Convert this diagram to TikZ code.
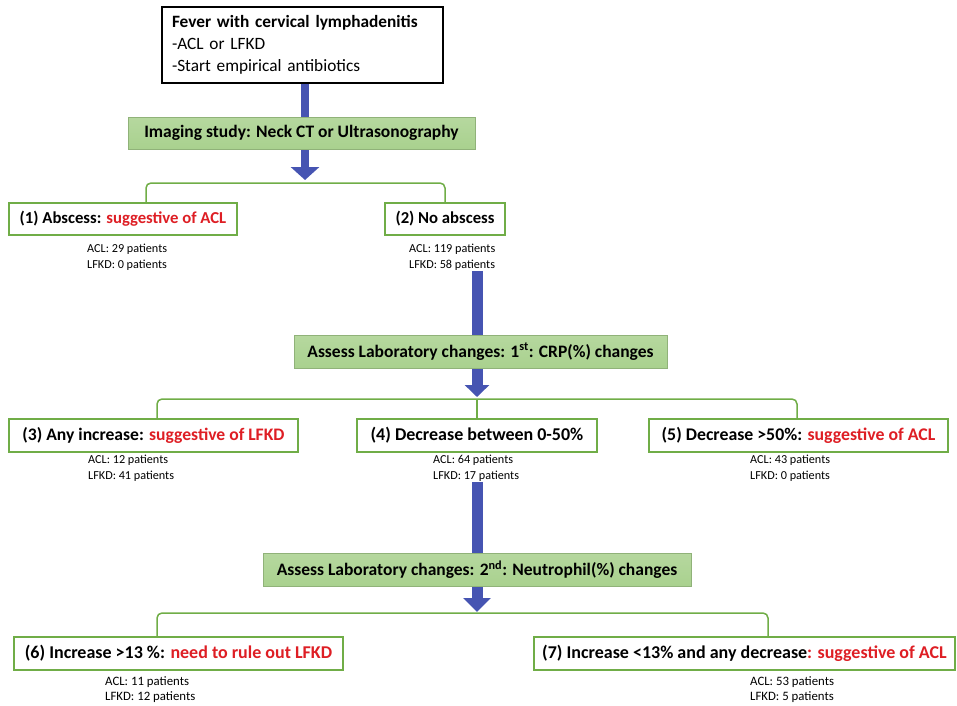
\documentclass[tikz,border=0pt]{standalone}
\usepackage{fontspec}
\setmainfont{Carlito}
\usetikzlibrary{positioning,arrows.meta,backgrounds}

\definecolor{boxgreen}{RGB}{112,173,71}
\definecolor{fillgreen}{RGB}{169,209,142}
\definecolor{arrowblue}{RGB}{70,84,178}
\definecolor{sugred}{RGB}{222,30,36}
\newcommand{\sug}[1]{\textcolor{sugred}{#1}}
\newcommand{\fs}[1]{\fontsize{#1}{1.2\dimexpr#1pt\relax}\selectfont}

\tikzset{
  outcome/.style={draw=boxgreen, line width=1.5pt, fill=white, minimum height=33pt,
    inner sep=0pt, font=\fs{16.7}\bfseries},
  assess/.style={draw=fillgreen!85!black, line width=0.8pt, top color=fillgreen!85!white,
    bottom color=fillgreen, minimum height=33pt, inner sep=0pt,
    font=\fs{17.5}\bfseries},
  counts/.style={anchor=west, align=left, inner sep=0pt, font=\fontsize{12.2}{16}\selectfont},
  bracket/.style={draw=boxgreen, line width=1.5pt, rounded corners=5pt},
  bigarrow/.style n args={3}{draw=arrowblue, line width=#1,
    -{Triangle[width=#2,length=#3]}}
}

\begin{document}
\begin{tikzpicture}[x=1pt,y=-1pt]
	\useasboundingbox (0,0) rectangle (957,705);

	\node [draw, line width=1.2pt, minimum width=281pt, minimum height=76pt, inner sep=0pt,
	  text width=261pt, align=left, font=\fontsize{17.3}{22}\selectfont] (fever) at (302.5,45)
	  {\textbf{Fever with cervical lymphadenitis}\\-ACL or LFKD\\-Start empirical antibiotics};
	\node [assess, minimum width=347pt, minimum height=32pt] (imaging) at (301.5,133)
	  {Imaging study: Neck CT or Ultrasonography};

	\node [outcome, minimum width=228pt, minimum height=32pt] (abscess) at (123,219)
	  {(1) Abscess: \sug{suggestive of ACL}};
	\node [outcome, minimum width=120pt, minimum height=32pt] (noabs) at (445,219) {(2) No abscess};
	\node [counts] (cntabs) at (87,257.5) {ACL: 29 patients\\LFKD: 0 patients};
	\node [counts] (cntnoabs) at (409,257.5) {ACL: 119 patients\\LFKD: 58 patients};

	\node [assess, minimum width=373pt] (crp) at (480.5,351.5)
	  {Assess Laboratory changes: 1\textsuperscript{st}: CRP(\%) changes};

	\node [outcome, minimum width=289pt, font=\fs{17.6}\bfseries] (incr) at (153.5,435.5)
	  {(3) Any increase: \sug{suggestive of LFKD}};
	\node [outcome, minimum width=240pt, font=\fs{18}\bfseries] (decr) at (477,435.5)
	  {(4) Decrease between 0-50\%};
	\node [outcome, minimum width=299pt, font=\fs{17.8}\bfseries] (decrbig) at (798.5,435.5)
	  {(5) Decrease >50\%: \sug{suggestive of ACL}};
	\node [counts] (cntincr) at (88,468.5) {ACL: 12 patients\\LFKD: 41 patients};
	\node [counts] (cntdecr) at (433,468.5) {ACL: 64 patients\\LFKD: 17 patients};
	\node [counts] (cntdecrbig) at (750,468.5) {ACL: 43 patients\\LFKD: 0 patients};

	\node [assess, minimum width=428pt] (neut) at (477,569.5)
	  {Assess Laboratory changes: 2\textsuperscript{nd}: Neutrophil(\%) changes};

	\node [outcome, minimum width=329pt, font=\fs{18}\bfseries] (neutup) at (178.5,653.5)
	  {(6) Increase >13 \%: \sug{need to rule out LFKD}};
	\node [outcome, minimum width=421pt, font=\fs{18}\bfseries] (neutlow) at (744.5,653.5)
	  {(7) Increase <13\% and any decrease\sug{: suggestive of ACL}};
	\node [counts, font=\fontsize{12.8}{15}\selectfont] (cntneutup) at (105,689.5)
	  {ACL: 11 patients\\LFKD: 12 patients};
	\node [counts, font=\fontsize{12.8}{15}\selectfont] (cntneutlow) at (750,689.5)
	  {ACL: 53 patients\\LFKD: 5 patients};

	% brackets
	\coordinate (brk1) at (305,183);
	\coordinate (brk2) at (477,399);
	\coordinate (brk3) at (477,613);
	\draw [bracket] ([xshift=23pt]abscess.north) |- (brk1) -| (noabs.north);
	\draw [bracket] ([xshift=3.5pt]incr.north) |- (brk2) -| ([xshift=-1.5pt]decrbig.north);
	\draw [bracket] (brk2) -- (decr.north);
	\draw [bracket] ([xshift=-21.5pt]neutup.north) |- (brk3) -| ([xshift=23.5pt]neutlow.north);

	% blue arrows behind the boxes
	\begin{scope}[on background layer]
	\draw [bigarrow={8pt}{28pt}{13pt}] (fever.south -| brk1) -- ([yshift=3pt]brk1);
	\draw [bigarrow={11pt}{24pt}{12pt}] (cntnoabs.south -| brk2) -- ([yshift=2pt]brk2);
	\draw [bigarrow={11pt}{27pt}{14pt}] (cntdecr.south -| brk3) -- ([yshift=1pt]brk3);
	\end{scope}
\end{tikzpicture}
\end{document}
